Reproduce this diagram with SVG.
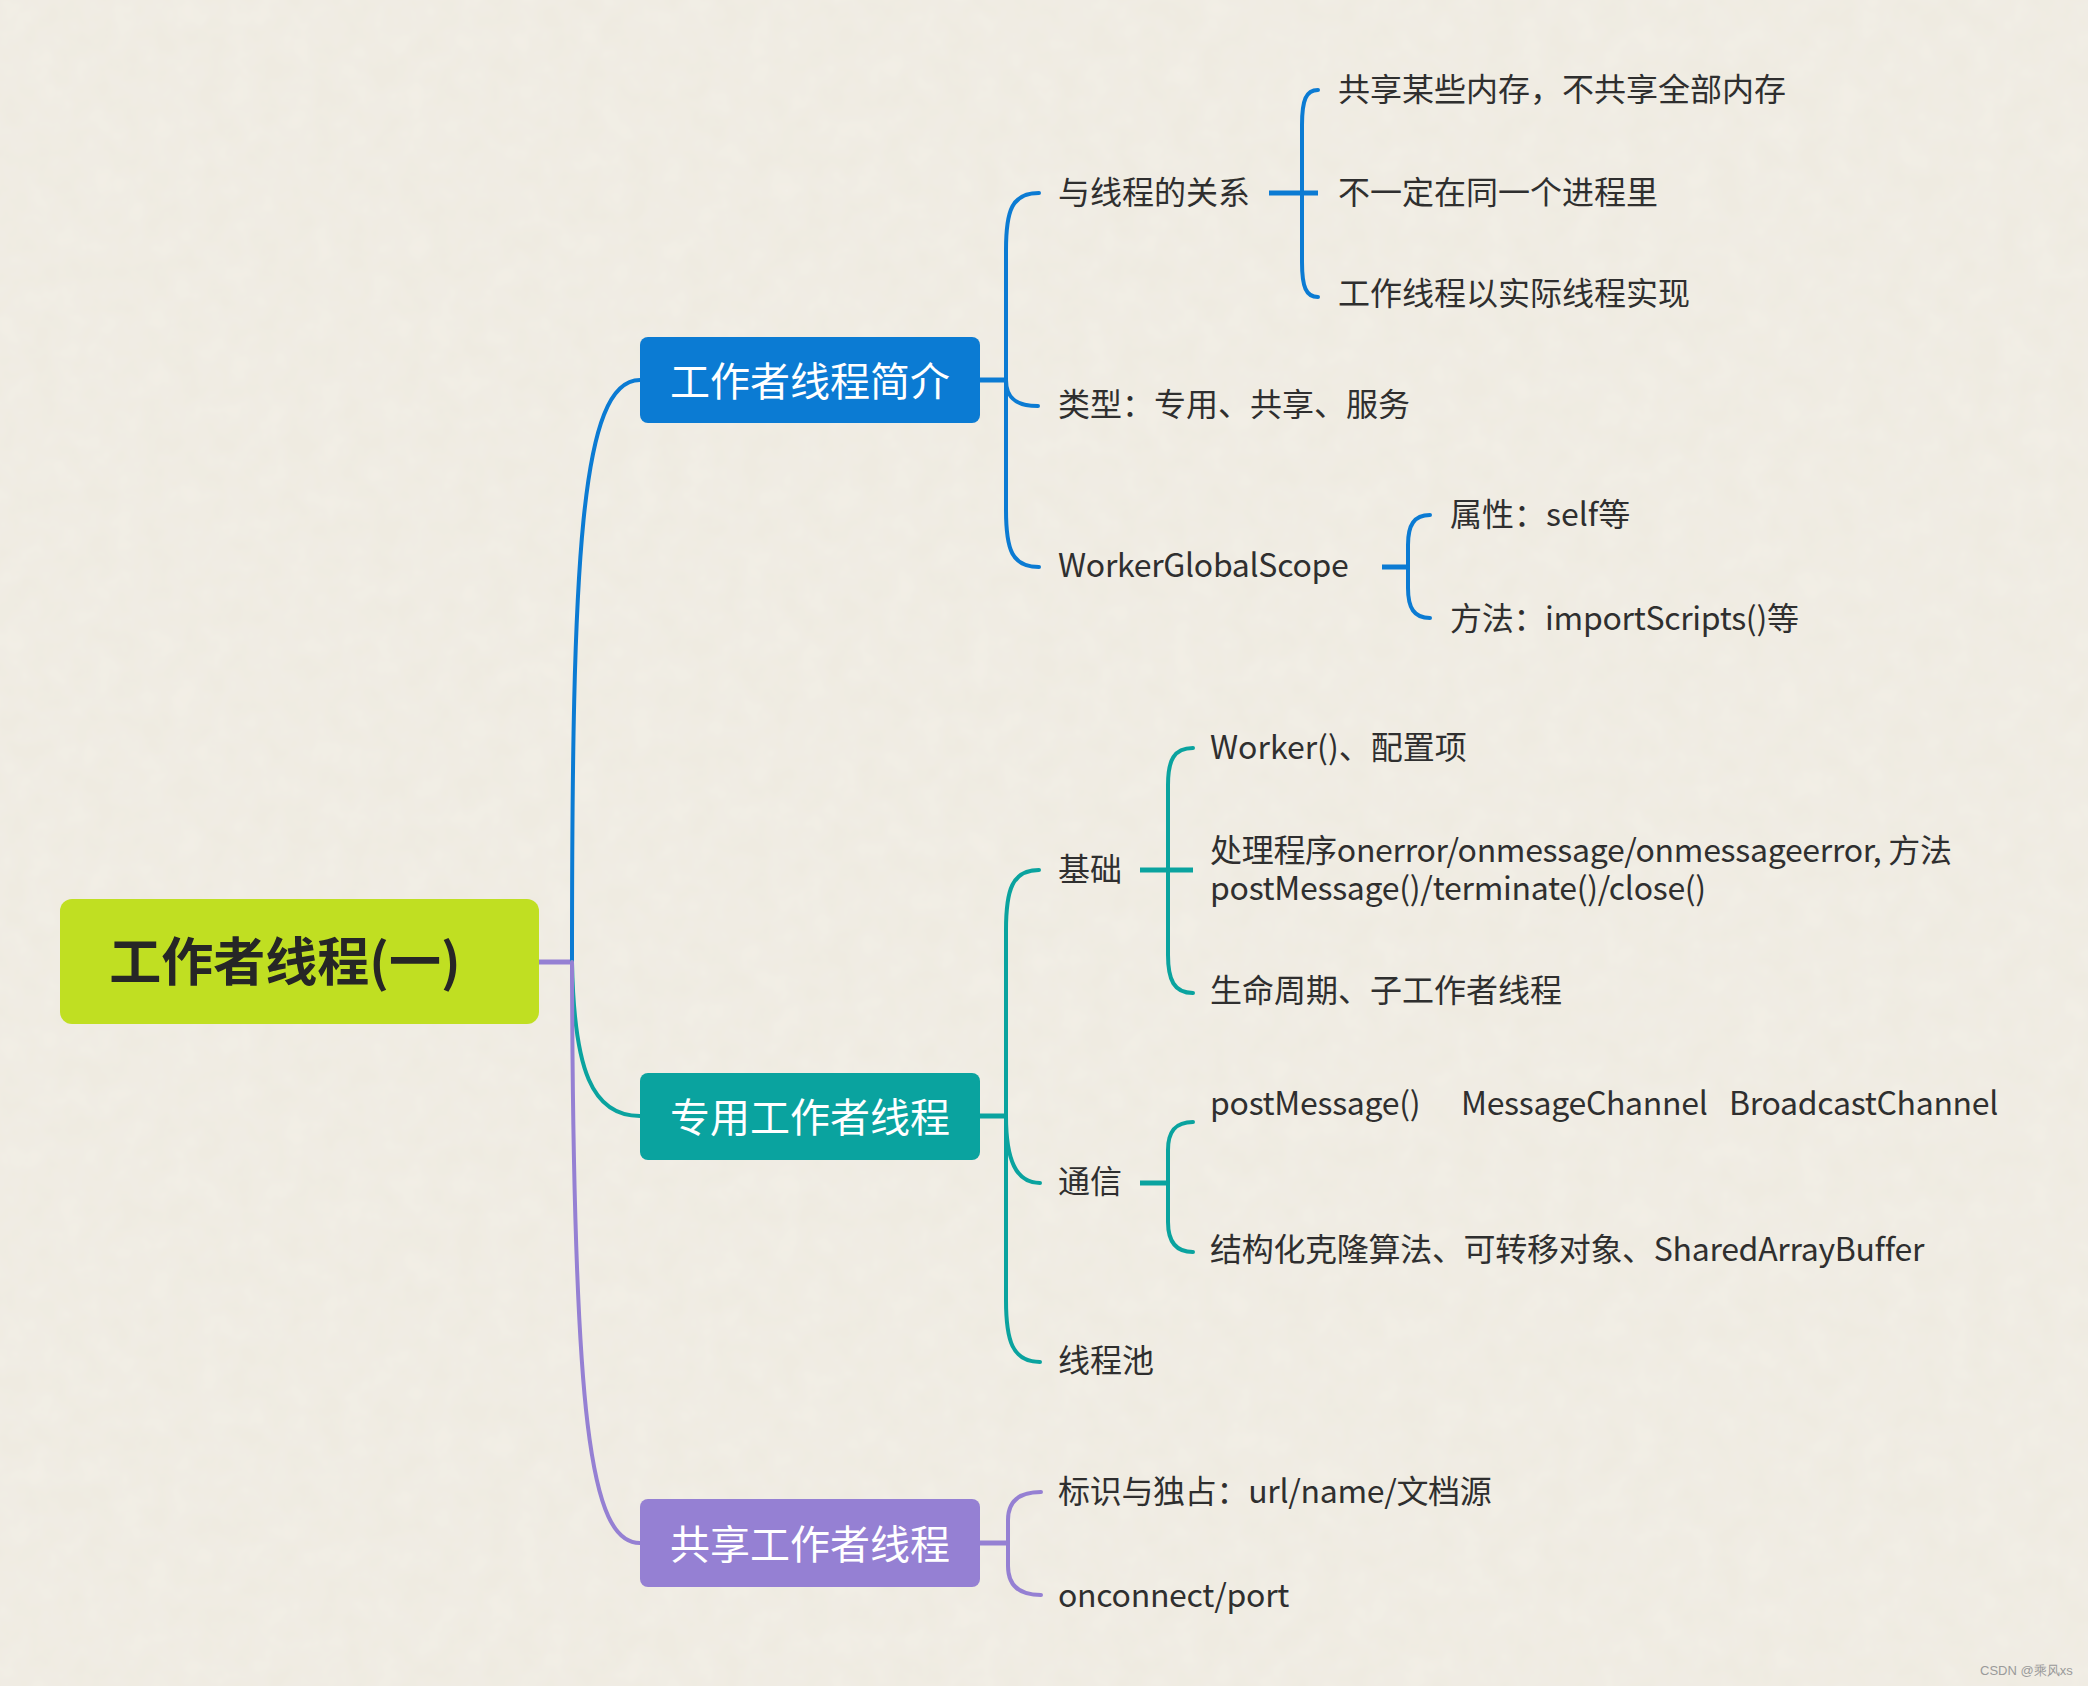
<svg xmlns="http://www.w3.org/2000/svg" width="2088" height="1686" viewBox="0 0 2088 1686">
<defs>
<filter id="paper" x="0" y="0" width="100%" height="100%">
<feTurbulence type="fractalNoise" baseFrequency="0.035" numOctaves="3" seed="4" result="n"/>
<feColorMatrix in="n" type="matrix" values="0 0 0 0 0.93  0 0 0 0 0.91  0 0 0 0 0.86  0 0 0 -0.9 0.75" result="c"/>
<feComposite in="c" in2="SourceGraphic" operator="over"/>
</filter>
<style>
.t{font-family:"Noto Sans CJK SC","Noto Sans",sans-serif;font-size:32px;fill:#2f2f2f;dominant-baseline:central}
.l{letter-spacing:-0.3px}
.b{font-family:"Noto Sans CJK SC","Noto Sans",sans-serif;font-size:40px;fill:#ffffff;dominant-baseline:central;text-anchor:middle}
.r{font-family:"Noto Sans CJK SC","Noto Sans",sans-serif;font-size:52px;font-weight:bold;fill:#262626;dominant-baseline:central;text-anchor:middle}
.cb{fill:none;stroke:#0b7bd3;stroke-width:4;stroke-linecap:round}
.ct{fill:none;stroke:#0aa39f;stroke-width:4;stroke-linecap:round}
.cp{fill:none;stroke:#9580d3;stroke-width:4;stroke-linecap:round}
.s{stroke-width:5;stroke-linecap:butt}
</style>
</defs>
<rect x="0" y="0" width="2088" height="1686" fill="#efebe1"/>
<rect x="0" y="0" width="2088" height="1686" fill="#efebe1" filter="url(#paper)" opacity="0.6"/>

<g id="connectors">
<path class="cp s" d="M539,962 H574"/>
<path class="cb" d="M572,962 C572,560 580,380 640,380"/>
<path class="ct" d="M572,962 C574,1070 592,1116 640,1116"/>
<path class="cp" d="M572,962 C573,1420 590,1543 640,1543"/>
<path class="cb s" d="M980,380 H1008"/>
<path class="cb" d="M1006,380 V250 C1006,210 1012,193 1039,193"/>
<path class="cb" d="M1006,380 C1006,398 1016,406 1038,406"/>
<path class="cb" d="M1006,380 V510 C1006,550 1012,567 1039,567"/>
<path class="cb s" d="M1269,193 H1318"/>
<path class="cb" d="M1302,193 V125 C1302,100 1306,90 1318,90"/>
<path class="cb" d="M1302,193 V262 C1302,287 1306,297 1318,297"/>
<path class="cb s" d="M1382,567 H1410"/>
<path class="cb" d="M1408,567 V545 C1408,525 1414,515 1430,515"/>
<path class="cb" d="M1408,567 V588 C1408,608 1414,618 1430,618"/>
<path class="ct s" d="M980,1116 H1008"/>
<path class="ct" d="M1006,1116 V930 C1006,890 1012,870 1039,870"/>
<path class="ct" d="M1006,1116 C1006,1160 1016,1183 1040,1183"/>
<path class="ct" d="M1006,1116 V1300 C1006,1340 1012,1362 1040,1362"/>
<path class="ct s" d="M1140,870 H1193"/>
<path class="ct" d="M1168,870 V785 C1168,760 1174,748 1193,748"/>
<path class="ct" d="M1168,870 V955 C1168,980 1174,993 1193,993"/>
<path class="ct s" d="M1140,1183 H1170"/>
<path class="ct" d="M1168,1183 V1150 C1168,1132 1175,1122 1193,1122"/>
<path class="ct" d="M1168,1183 V1222 C1168,1240 1175,1252 1193,1252"/>
<path class="cp s" d="M980,1543 H1010"/>
<path class="cp" d="M1008,1543 V1520 C1008,1502 1018,1492 1041,1492"/>
<path class="cp" d="M1008,1543 V1566 C1008,1584 1018,1595 1041,1595"/>
</g>

<g id="root">
<rect x="60" y="899" width="479" height="125" rx="12" fill="#c0df22"/>
<text class="r" x="285" y="958">工作者线程(一)</text>
</g>

<g id="n-intro">
<rect x="640" y="337" width="340" height="86" rx="8" fill="#0b7bd3"/>
<text class="b" x="810" y="379">工作者线程简介</text>
</g>
<g id="n-dedicated">
<rect x="640" y="1073" width="340" height="87" rx="8" fill="#0aa39f"/>
<text class="b" x="810" y="1115">专用工作者线程</text>
</g>
<g id="n-shared">
<rect x="640" y="1499" width="340" height="88" rx="8" fill="#9580d3"/>
<text class="b" x="810" y="1542">共享工作者线程</text>
</g>

<g id="n-relation"><text class="t" x="1058" y="190">与线程的关系</text></g>
<g id="n-rel1"><text class="t" x="1338" y="87">共享某些内存，不共享全部内存</text></g>
<g id="n-rel2"><text class="t" x="1338" y="190">不一定在同一个进程里</text></g>
<g id="n-rel3"><text class="t" x="1338" y="291">工作线程以实际线程实现</text></g>
<g id="n-types"><text class="t" x="1058" y="402">类型：专用、共享、服务</text></g>
<g id="n-wgs"><text class="t l" x="1058" y="563">WorkerGlobalScope</text></g>
<g id="n-wgs1"><text class="t" x="1450" y="512">属性：self等</text></g>
<g id="n-wgs2"><text class="t l" x="1450" y="616">方法：importScripts()等</text></g>

<g id="n-basic"><text class="t" x="1058" y="867">基础</text></g>
<g id="n-basic1"><text class="t" x="1210" y="745">Worker()、配置项</text></g>
<g id="n-basic2"><text class="t l" x="1210" y="848">处理程序onerror/onmessage/onmessageerror, 方法<tspan x="1210" dy="38">postMessage()/terminate()/close()</tspan></text></g>
<g id="n-basic3"><text class="t" x="1210" y="988">生命周期、子工作者线程</text></g>
<g id="n-comm"><text class="t" x="1058" y="1179">通信</text></g>
<g id="n-comm1"><text class="t l" x="1210" y="1101">postMessage() <tspan x="1461">MessageChannel </tspan><tspan x="1729">BroadcastChannel</tspan></text></g>
<g id="n-comm2"><text class="t l" x="1210" y="1247">结构化克隆算法、可转移对象、SharedArrayBuffer</text></g>
<g id="n-pool"><text class="t" x="1058" y="1358">线程池</text></g>

<g id="n-ident"><text class="t l" x="1058" y="1489">标识与独占：url/name/文档源</text></g>
<g id="n-port"><text class="t l" x="1058" y="1593">onconnect/port</text></g>

<text x="1980" y="1670" font-family="Liberation Sans, sans-serif" font-size="13" fill="#9a9a9a" dominant-baseline="central">CSDN @乘风xs</text>
</svg>
